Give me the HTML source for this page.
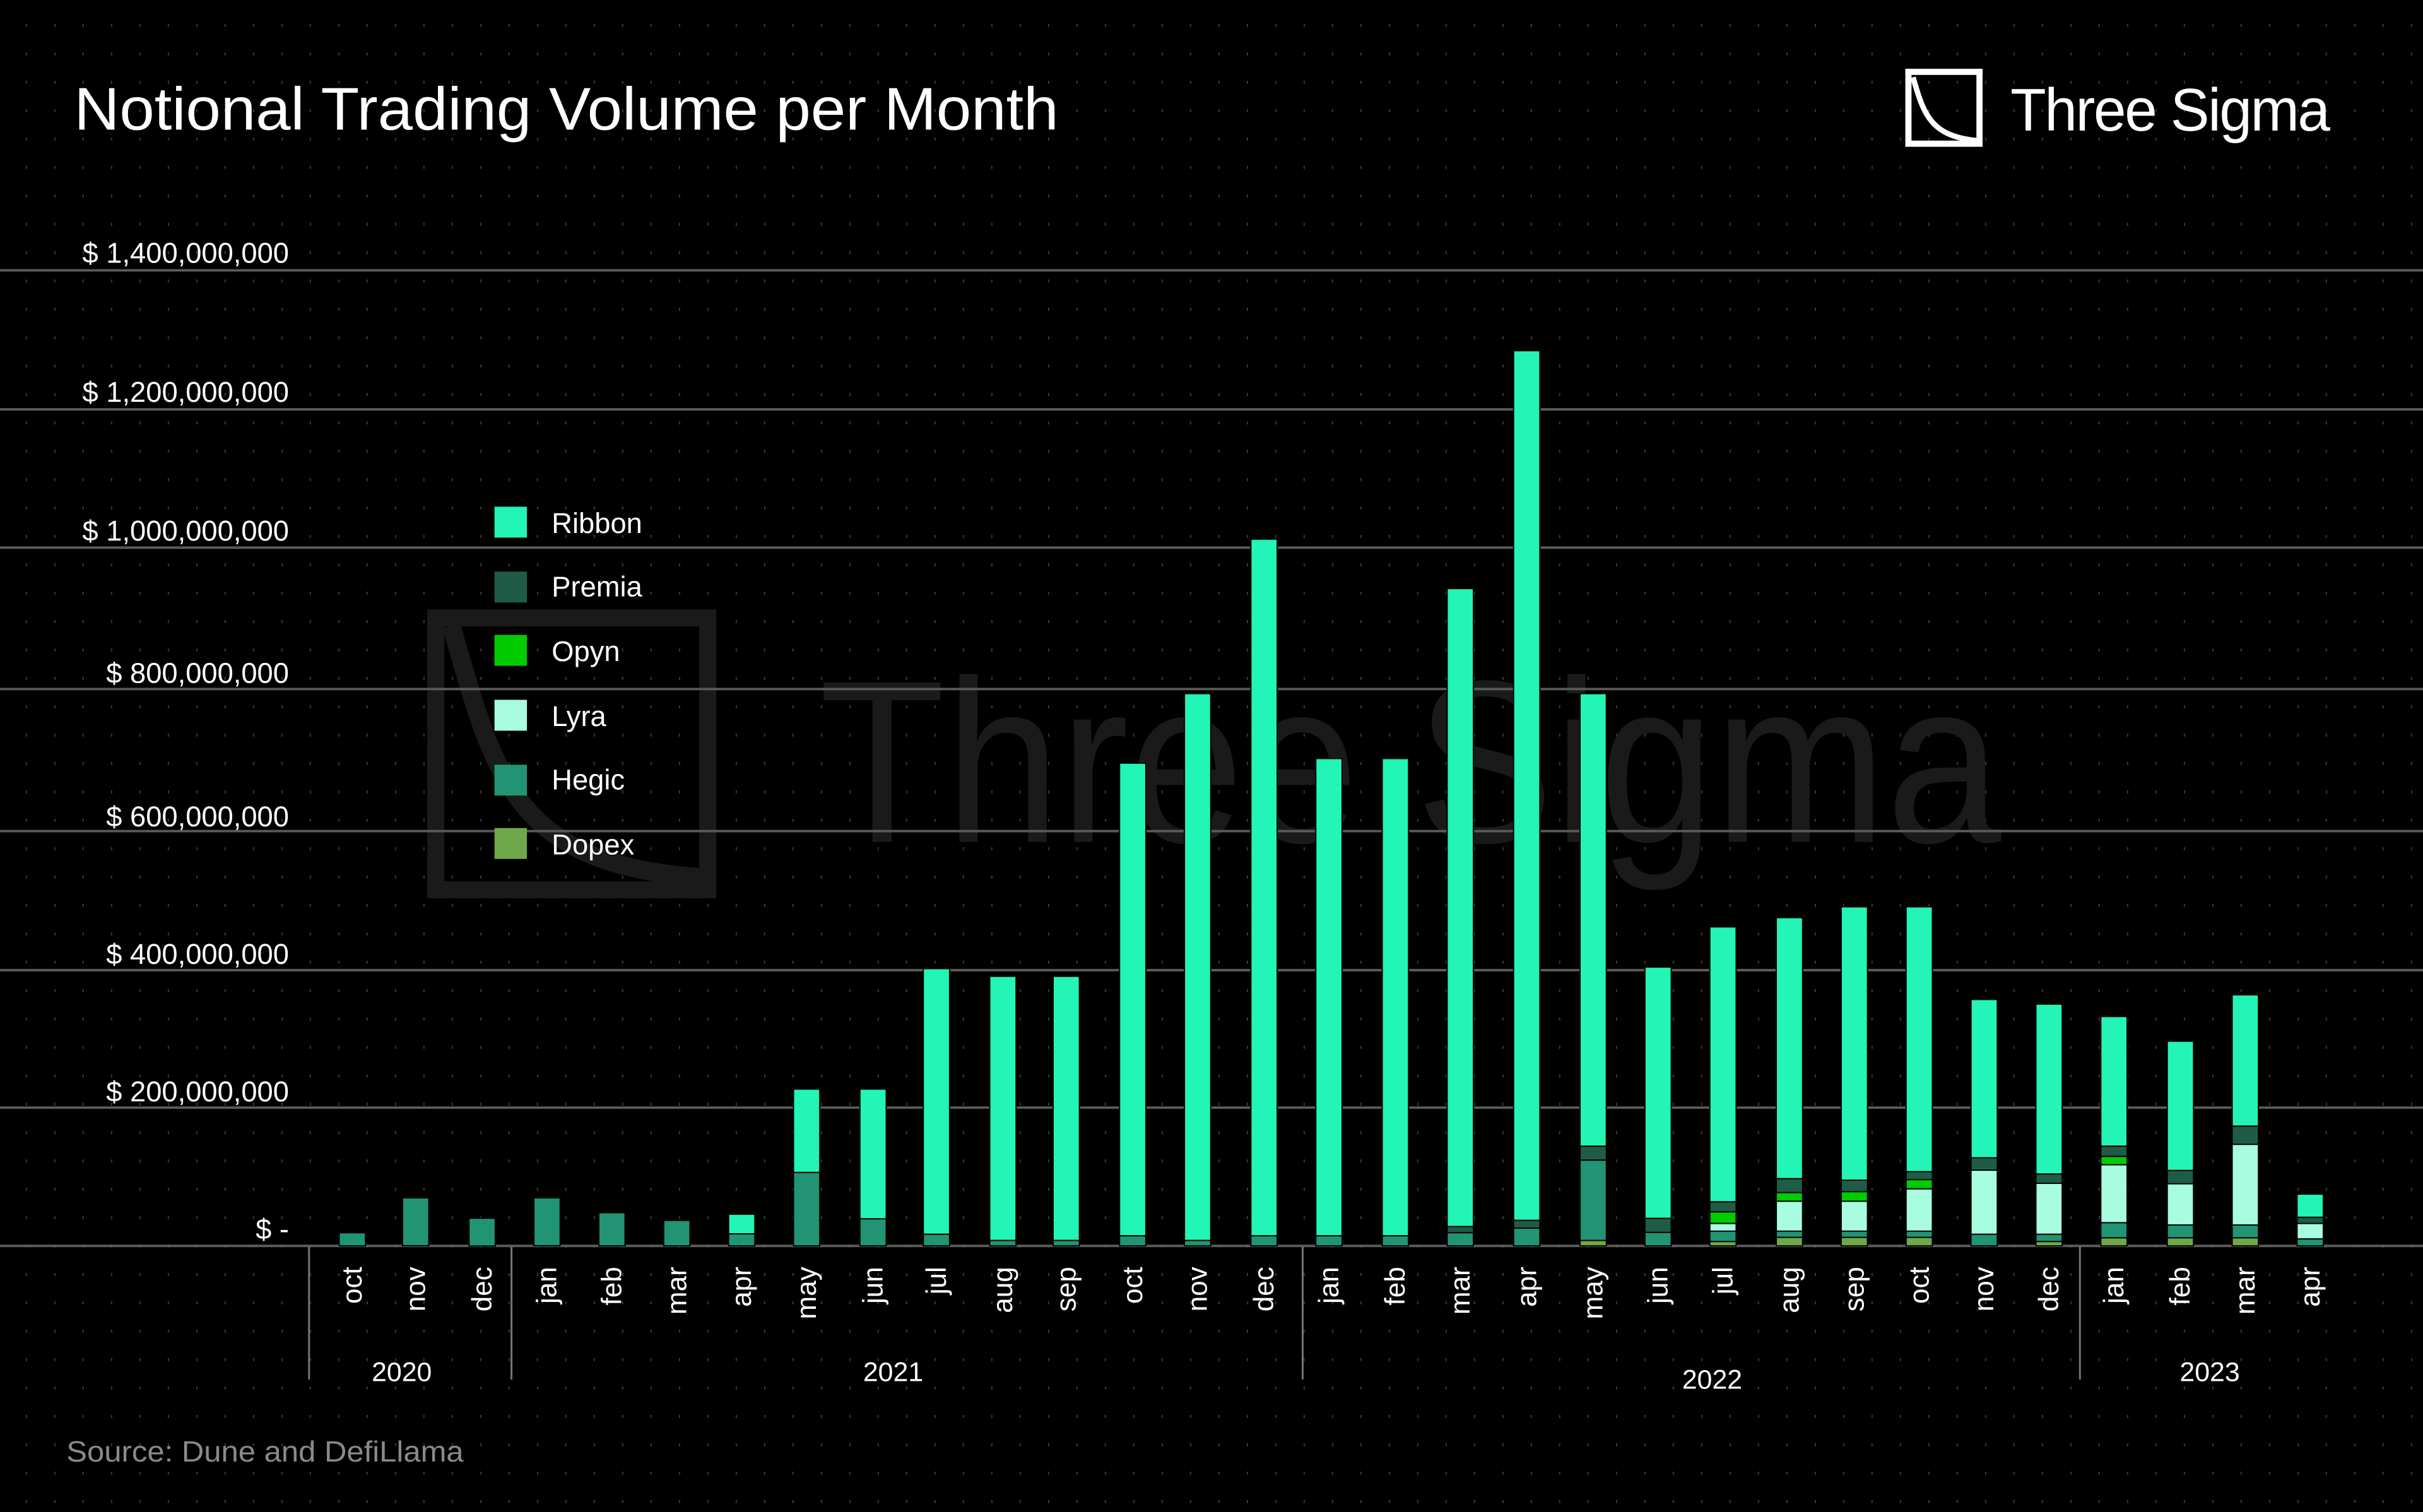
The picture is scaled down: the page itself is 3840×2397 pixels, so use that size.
<!DOCTYPE html>
<html><head><meta charset="utf-8"><style>
html,body{margin:0;padding:0;background:#000;}
svg{display:block}
text{font-family:"Liberation Sans",sans-serif;}
</style></head><body>
<svg width="3840" height="2397" viewBox="0 0 1568 978.75" xmlns="http://www.w3.org/2000/svg">
<defs>
<pattern id="dots" width="18.375" height="18.375" patternUnits="userSpaceOnUse" x="16.7" y="15.5">
<rect x="0" y="0" width="0.8" height="2" fill="#3a3a3a"/>
</pattern>
</defs>
<rect width="1568" height="978.75" fill="#000"/>
<rect width="1568" height="978.75" fill="url(#dots)"/>

<!-- watermark -->
<g>
<rect x="282" y="400" width="176" height="176" fill="none" stroke="#1a1a1a" stroke-width="11"/>
<path d="M292 405 C 320 500, 330 560, 455 568" fill="none" stroke="#1a1a1a" stroke-width="12"/>
<text x="530" y="545" font-size="150" fill="#1a1a1a" textLength="765" lengthAdjust="spacingAndGlyphs">Three Sigma</text>
</g>

<!-- title -->
<text x="48" y="84" font-size="39" fill="#fff" textLength="637" lengthAdjust="spacingAndGlyphs">Notional Trading Volume per Month</text>

<!-- logo -->
<rect x="1235" y="46.5" width="46" height="46.5" fill="none" stroke="#fff" stroke-width="4"/>
<path d="M1238 50 C 1245 75, 1250 88, 1279 91" fill="none" stroke="#fff" stroke-width="3.5"/>
<text x="1301" y="84.5" font-size="39" fill="#fff" textLength="206" lengthAdjust="spacingAndGlyphs" letter-spacing="-1">Three Sigma</text>

<!-- gridlines -->
<g stroke="#5a5a5a" stroke-width="1.6">
<line x1="0" x2="1568" y1="175" y2="175"/>
<line x1="0" x2="1568" y1="265" y2="265"/>
<line x1="0" x2="1568" y1="354.5" y2="354.5"/>
<line x1="0" x2="1568" y1="446" y2="446"/>
<line x1="0" x2="1568" y1="538" y2="538"/>
<line x1="0" x2="1568" y1="628" y2="628"/>
<line x1="0" x2="1568" y1="717" y2="717"/>
<line x1="0" x2="1568" y1="806.5" y2="806.5"/>
</g>
<g font-size="18.5" fill="#fff" text-anchor="end">
<text x="187" y="170">$ 1,400,000,000</text>
<text x="187" y="260">$ 1,200,000,000</text>
<text x="187" y="350">$ 1,000,000,000</text>
<text x="187" y="442">$ 800,000,000</text>
<text x="187" y="535">$ 600,000,000</text>
<text x="187" y="624">$ 400,000,000</text>
<text x="187" y="713">$ 200,000,000</text>
<text x="187" y="802">$ -</text>
</g>

<!-- bars -->
<g stroke="#000" stroke-width="0.8">
<rect x="219.5" y="798" width="17" height="8.5" fill="#219473"/>
<rect x="260.5" y="775.4" width="17" height="31" fill="#219473"/>
<rect x="303.5" y="788.6" width="17" height="18" fill="#219473"/>
<rect x="345.5" y="775.4" width="17" height="31" fill="#219473"/>
<rect x="387.5" y="785" width="17" height="21.5" fill="#219473"/>
<rect x="429.5" y="790" width="17" height="16.5" fill="#219473"/>
<rect x="471.5" y="786" width="17" height="12.7" fill="#22F5B5"/><rect x="471.5" y="798.7" width="17" height="7.8" fill="#219473"/>
<rect x="513.5" y="705" width="17" height="54" fill="#22F5B5"/><rect x="513.5" y="759" width="17" height="47.5" fill="#219473"/>
<rect x="556.5" y="705" width="17" height="84" fill="#22F5B5"/><rect x="556.5" y="789" width="17" height="17.5" fill="#219473"/>
<rect x="597.5" y="627" width="17" height="172" fill="#22F5B5"/><rect x="597.5" y="799" width="17" height="7.5" fill="#219473"/>
<rect x="640.5" y="632" width="17" height="171" fill="#22F5B5"/><rect x="640.5" y="803" width="17" height="3.5" fill="#219473"/>
<rect x="681.5" y="632" width="17" height="171" fill="#22F5B5"/><rect x="681.5" y="803" width="17" height="3.5" fill="#219473"/>
<rect x="724.5" y="494" width="17" height="306" fill="#22F5B5"/><rect x="724.5" y="800" width="17" height="6.5" fill="#219473"/>
<rect x="766.5" y="449" width="17" height="354" fill="#22F5B5"/><rect x="766.5" y="803" width="17" height="3.5" fill="#219473"/>
<rect x="809.5" y="349" width="17" height="451" fill="#22F5B5"/><rect x="809.5" y="800" width="17" height="6.5" fill="#219473"/>
<rect x="851.5" y="491" width="17" height="309" fill="#22F5B5"/><rect x="851.5" y="800" width="17" height="6.5" fill="#219473"/>
<rect x="894.5" y="491" width="17" height="309" fill="#22F5B5"/><rect x="894.5" y="800" width="17" height="6.5" fill="#219473"/>
<rect x="936.5" y="381" width="17" height="413" fill="#22F5B5"/><rect x="936.5" y="794" width="17" height="4" fill="#1E5C48"/><rect x="936.5" y="798" width="17" height="8.5" fill="#219473"/>
<rect x="979.5" y="227" width="17" height="563" fill="#22F5B5"/><rect x="979.5" y="790" width="17" height="5" fill="#1E5C48"/><rect x="979.5" y="795" width="17" height="11.5" fill="#219473"/>
<rect x="1022.5" y="449" width="17" height="293" fill="#22F5B5"/><rect x="1022.5" y="742" width="17" height="9" fill="#1E5C48"/><rect x="1022.5" y="751" width="17" height="52" fill="#219473"/><rect x="1022.5" y="803" width="17" height="3.5" fill="#6FA84A"/>
<rect x="1064.5" y="626" width="17" height="162.7" fill="#22F5B5"/><rect x="1064.5" y="788.7" width="17" height="9.1" fill="#1E5C48"/><rect x="1064.5" y="797.8" width="17" height="8.7" fill="#219473"/>
<rect x="1106.5" y="600" width="17" height="178" fill="#22F5B5"/><rect x="1106.5" y="778" width="17" height="6.5" fill="#1E5C48"/><rect x="1106.5" y="784.5" width="17" height="7.5" fill="#00CC00"/><rect x="1106.5" y="792" width="17" height="5" fill="#A8FCE0"/><rect x="1106.5" y="797" width="17" height="6.7" fill="#219473"/><rect x="1106.5" y="803.7" width="17" height="2.8" fill="#6FA84A"/>
<rect x="1149.5" y="594" width="17" height="169" fill="#22F5B5"/><rect x="1149.5" y="763" width="17" height="9" fill="#1E5C48"/><rect x="1149.5" y="772" width="17" height="5.6" fill="#00CC00"/><rect x="1149.5" y="777.6" width="17" height="19.4" fill="#A8FCE0"/><rect x="1149.5" y="797" width="17" height="4" fill="#219473"/><rect x="1149.5" y="801" width="17" height="5.5" fill="#6FA84A"/>
<rect x="1191.5" y="587" width="17" height="177" fill="#22F5B5"/><rect x="1191.5" y="764" width="17" height="7.4" fill="#1E5C48"/><rect x="1191.5" y="771.4" width="17" height="6.2" fill="#00CC00"/><rect x="1191.5" y="777.6" width="17" height="19.4" fill="#A8FCE0"/><rect x="1191.5" y="797" width="17" height="4" fill="#219473"/><rect x="1191.5" y="801" width="17" height="5.5" fill="#6FA84A"/>
<rect x="1233.5" y="587" width="17" height="171.5" fill="#22F5B5"/><rect x="1233.5" y="758.5" width="17" height="5.1" fill="#1E5C48"/><rect x="1233.5" y="763.6" width="17" height="6" fill="#00CC00"/><rect x="1233.5" y="769.6" width="17" height="27.4" fill="#A8FCE0"/><rect x="1233.5" y="797" width="17" height="4" fill="#219473"/><rect x="1233.5" y="801" width="17" height="5.5" fill="#6FA84A"/>
<rect x="1275.5" y="647" width="17" height="102.5" fill="#22F5B5"/><rect x="1275.5" y="749.5" width="17" height="8" fill="#1E5C48"/><rect x="1275.5" y="757.5" width="17" height="41.5" fill="#A8FCE0"/><rect x="1275.5" y="799" width="17" height="7.5" fill="#219473"/>
<rect x="1317.5" y="650" width="17" height="110" fill="#22F5B5"/><rect x="1317.5" y="760" width="17" height="6" fill="#1E5C48"/><rect x="1317.5" y="766" width="17" height="33" fill="#A8FCE0"/><rect x="1317.5" y="799" width="17" height="4.7" fill="#219473"/><rect x="1317.5" y="803.7" width="17" height="2.8" fill="#6FA84A"/>
<rect x="1359.5" y="658" width="17" height="84" fill="#22F5B5"/><rect x="1359.5" y="742" width="17" height="6.6" fill="#1E5C48"/><rect x="1359.5" y="748.6" width="17" height="5.4" fill="#00CC00"/><rect x="1359.5" y="754" width="17" height="37.5" fill="#A8FCE0"/><rect x="1359.5" y="791.5" width="17" height="9.8" fill="#219473"/><rect x="1359.5" y="801.3" width="17" height="5.2" fill="#6FA84A"/>
<rect x="1402.5" y="674" width="17" height="83.7" fill="#22F5B5"/><rect x="1402.5" y="757.7" width="17" height="8.6" fill="#1E5C48"/><rect x="1402.5" y="766.3" width="17" height="26.7" fill="#A8FCE0"/><rect x="1402.5" y="793" width="17" height="8.3" fill="#219473"/><rect x="1402.5" y="801.3" width="17" height="5.2" fill="#6FA84A"/>
<rect x="1444.5" y="644" width="17" height="85" fill="#22F5B5"/><rect x="1444.5" y="729" width="17" height="11.8" fill="#1E5C48"/><rect x="1444.5" y="740.8" width="17" height="52.2" fill="#A8FCE0"/><rect x="1444.5" y="793" width="17" height="8.3" fill="#219473"/><rect x="1444.5" y="801.3" width="17" height="5.2" fill="#6FA84A"/>
<rect x="1486.5" y="773" width="17" height="15" fill="#22F5B5"/><rect x="1486.5" y="788" width="17" height="4" fill="#1E5C48"/><rect x="1486.5" y="792" width="17" height="10" fill="#A8FCE0"/><rect x="1486.5" y="802" width="17" height="4.5" fill="#219473"/>
</g>

<!-- legend -->
<g font-size="18.5" fill="#fff">
<rect x="320" y="328" width="21" height="20" fill="#22F5B5"/><text x="357" y="345">Ribbon</text>
<rect x="320" y="370" width="21" height="20" fill="#1E5C48"/><text x="357" y="386">Premia</text>
<rect x="320" y="411" width="21" height="20" fill="#00CC00"/><text x="357" y="428">Opyn</text>
<rect x="320" y="453" width="21" height="20" fill="#A8FCE0"/><text x="357" y="470">Lyra</text>
<rect x="320" y="495" width="21" height="20" fill="#219473"/><text x="357" y="511">Hegic</text>
<rect x="320" y="536" width="21" height="20" fill="#6FA84A"/><text x="357" y="553">Dopex</text>
</g>

<g stroke="#777" stroke-width="1.2">
<line x1="200" x2="200" y1="807" y2="893"/>
<line x1="331" x2="331" y1="807" y2="893"/>
<line x1="843" x2="843" y1="807" y2="893"/>
<line x1="1346" x2="1346" y1="807" y2="893"/>
</g>

<g font-size="18" fill="#fff" text-anchor="end">
<text transform="translate(234,820) rotate(-90)">oct</text>
<text transform="translate(275,820) rotate(-90)">nov</text>
<text transform="translate(318,820) rotate(-90)">dec</text>
<text transform="translate(360,820) rotate(-90)">jan</text>
<text transform="translate(402,820) rotate(-90)">feb</text>
<text transform="translate(444,820) rotate(-90)">mar</text>
<text transform="translate(486,820) rotate(-90)">apr</text>
<text transform="translate(528,820) rotate(-90)">may</text>
<text transform="translate(571,820) rotate(-90)">jun</text>
<text transform="translate(612,820) rotate(-90)">jul</text>
<text transform="translate(655,820) rotate(-90)">aug</text>
<text transform="translate(696,820) rotate(-90)">sep</text>
<text transform="translate(739,820) rotate(-90)">oct</text>
<text transform="translate(781,820) rotate(-90)">nov</text>
<text transform="translate(824,820) rotate(-90)">dec</text>
<text transform="translate(866,820) rotate(-90)">jan</text>
<text transform="translate(909,820) rotate(-90)">feb</text>
<text transform="translate(951,820) rotate(-90)">mar</text>
<text transform="translate(994,820) rotate(-90)">apr</text>
<text transform="translate(1037,820) rotate(-90)">may</text>
<text transform="translate(1079,820) rotate(-90)">jun</text>
<text transform="translate(1121,820) rotate(-90)">jul</text>
<text transform="translate(1164,820) rotate(-90)">aug</text>
<text transform="translate(1206,820) rotate(-90)">sep</text>
<text transform="translate(1248,820) rotate(-90)">oct</text>
<text transform="translate(1290,820) rotate(-90)">nov</text>
<text transform="translate(1332,820) rotate(-90)">dec</text>
<text transform="translate(1374,820) rotate(-90)">jan</text>
<text transform="translate(1417,820) rotate(-90)">feb</text>
<text transform="translate(1459,820) rotate(-90)">mar</text>
<text transform="translate(1501,820) rotate(-90)">apr</text>
</g>
<g font-size="17.5" fill="#fff" text-anchor="middle">
<text x="260" y="894">2020</text>
<text x="578" y="894">2021</text>
<text x="1108" y="899">2022</text>
<text x="1430" y="894">2023</text>
</g>

<text x="43" y="946" font-size="19" fill="#8a8a8a" textLength="257" lengthAdjust="spacingAndGlyphs">Source: Dune and DefiLlama</text>
</svg>
</body></html>
